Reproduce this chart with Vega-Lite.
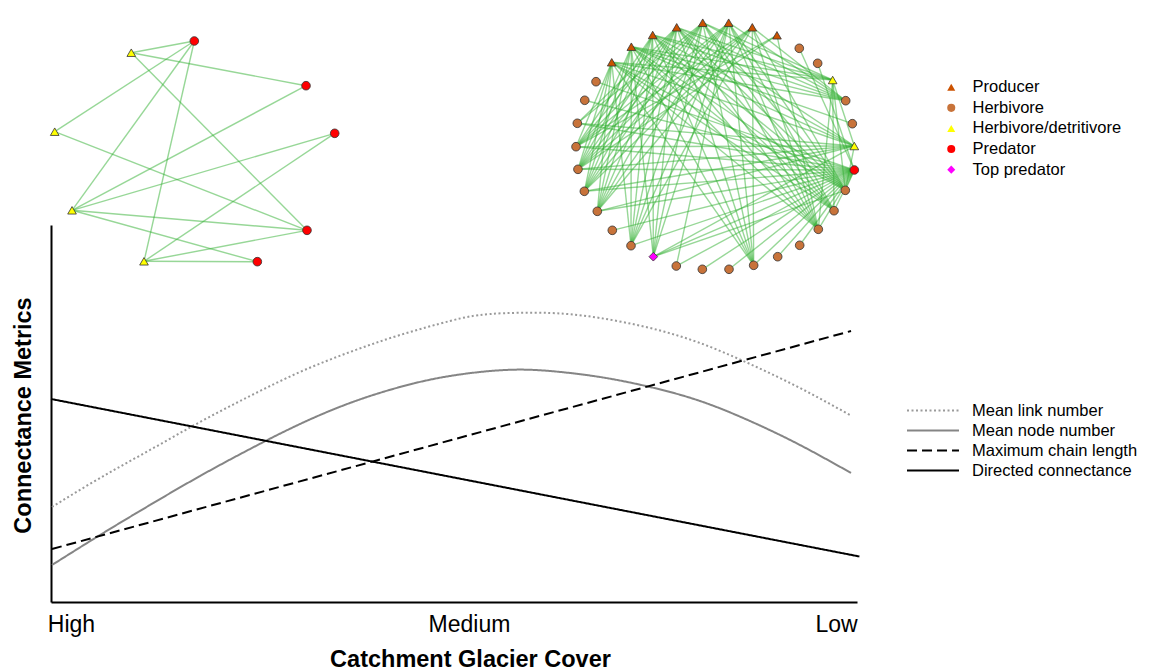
{
  "$schema": "https://vega.github.io/schema/vega-lite/v6.json",
  "width": 806,
  "height": 377,
  "autosize": {"type": "none"},
  "padding": {"left": 51, "top": 225, "right": 297, "bottom": 69},
  "background": "white",
  "config": {"view": {"stroke": null}, "font": "Liberation Sans"},
  "datasets": {
    "nodes": [
      {"id": "a1", "u": 17.78, "v": 148.81, "role": "Predator"},
      {"id": "a2", "u": 9.96, "v": 145.70, "role": "Herbivore/detritivore"},
      {"id": "a3", "u": 31.64, "v": 136.95, "role": "Predator"},
      {"id": "a4", "u": 0.46, "v": 124.75, "role": "Herbivore/detritivore"},
      {"id": "a5", "u": 35.20, "v": 124.32, "role": "Predator"},
      {"id": "a6", "u": 2.61, "v": 103.90, "role": "Herbivore/detritivore"},
      {"id": "a7", "u": 31.76, "v": 98.59, "role": "Predator"},
      {"id": "a8", "u": 11.54, "v": 90.37, "role": "Herbivore/detritivore"},
      {"id": "a9", "u": 25.60, "v": 90.27, "role": "Predator"},
      {"id": "n1", "u": 69.57, "v": 143.16, "role": "Producer"},
      {"id": "n2", "u": 72.00, "v": 147.29, "role": "Producer"},
      {"id": "n3", "u": 74.65, "v": 150.40, "role": "Producer"},
      {"id": "n4", "u": 77.63, "v": 152.44, "role": "Producer"},
      {"id": "n5", "u": 80.86, "v": 153.66, "role": "Producer"},
      {"id": "n6", "u": 84.08, "v": 153.66, "role": "Producer"},
      {"id": "n7", "u": 87.01, "v": 152.44, "role": "Producer"},
      {"id": "n8", "u": 90.07, "v": 150.32, "role": "Producer"},
      {"id": "n9", "u": 92.84, "v": 146.87, "role": "Herbivore"},
      {"id": "n10", "u": 95.12, "v": 142.89, "role": "Herbivore"},
      {"id": "n11", "u": 96.98, "v": 138.46, "role": "Herbivore/detritivore"},
      {"id": "n12", "u": 98.60, "v": 132.97, "role": "Herbivore"},
      {"id": "n13", "u": 99.42, "v": 126.87, "role": "Herbivore"},
      {"id": "n14", "u": 99.67, "v": 120.95, "role": "Herbivore/detritivore"},
      {"id": "n15", "u": 99.67, "v": 114.59, "role": "Predator"},
      {"id": "n16", "u": 98.55, "v": 109.20, "role": "Herbivore"},
      {"id": "n17", "u": 97.15, "v": 103.79, "role": "Herbivore"},
      {"id": "n18", "u": 95.20, "v": 98.86, "role": "Herbivore"},
      {"id": "n19", "u": 92.89, "v": 94.62, "role": "Herbivore"},
      {"id": "n20", "u": 90.16, "v": 91.59, "role": "Herbivore"},
      {"id": "n21", "u": 87.18, "v": 89.31, "role": "Herbivore"},
      {"id": "n22", "u": 84.12, "v": 88.25, "role": "Herbivore"},
      {"id": "n23", "u": 80.81, "v": 88.25, "role": "Herbivore"},
      {"id": "n24", "u": 77.58, "v": 89.12, "role": "Herbivore"},
      {"id": "n25", "u": 74.73, "v": 91.59, "role": "Top predator"},
      {"id": "n26", "u": 71.96, "v": 94.51, "role": "Herbivore"},
      {"id": "n27", "u": 69.64, "v": 98.59, "role": "Herbivore"},
      {"id": "n28", "u": 67.78, "v": 103.63, "role": "Herbivore"},
      {"id": "n29", "u": 66.17, "v": 108.94, "role": "Herbivore"},
      {"id": "n30", "u": 65.38, "v": 114.77, "role": "Herbivore"},
      {"id": "n31", "u": 65.14, "v": 120.77, "role": "Herbivore"},
      {"id": "n32", "u": 65.30, "v": 126.98, "role": "Herbivore"},
      {"id": "n33", "u": 66.22, "v": 133.08, "role": "Herbivore"},
      {"id": "n34", "u": 67.62, "v": 138.01, "role": "Herbivore"}
    ],
    "links": [
      {"s": "a2", "t": "a1"}, {"s": "a2", "t": "a3"}, {"s": "a2", "t": "a7"},
      {"s": "a4", "t": "a1"}, {"s": "a4", "t": "a7"},
      {"s": "a6", "t": "a1"}, {"s": "a6", "t": "a3"}, {"s": "a6", "t": "a5"}, {"s": "a6", "t": "a7"}, {"s": "a6", "t": "a9"},
      {"s": "a8", "t": "a1"}, {"s": "a8", "t": "a5"}, {"s": "a8", "t": "a7"}, {"s": "a8", "t": "a9"},
      {"s": "n1", "t": "n12"}, {"s": "n1", "t": "n16"}, {"s": "n1", "t": "n17"}, {"s": "n1", "t": "n18"}, {"s": "n1", "t": "n21"}, {"s": "n1", "t": "n26"}, {"s": "n1", "t": "n28"}, {"s": "n1", "t": "n29"}, {"s": "n1", "t": "n30"}, {"s": "n1", "t": "n31"},
      {"s": "n2", "t": "n12"}, {"s": "n2", "t": "n13"}, {"s": "n2", "t": "n16"}, {"s": "n2", "t": "n17"}, {"s": "n2", "t": "n18"}, {"s": "n2", "t": "n21"}, {"s": "n2", "t": "n25"}, {"s": "n2", "t": "n26"}, {"s": "n2", "t": "n28"}, {"s": "n2", "t": "n29"}, {"s": "n2", "t": "n30"},
      {"s": "n3", "t": "n12"}, {"s": "n3", "t": "n16"}, {"s": "n3", "t": "n17"}, {"s": "n3", "t": "n18"}, {"s": "n3", "t": "n21"}, {"s": "n3", "t": "n25"}, {"s": "n3", "t": "n26"}, {"s": "n3", "t": "n28"}, {"s": "n3", "t": "n29"}, {"s": "n3", "t": "n30"}, {"s": "n3", "t": "n31"},
      {"s": "n4", "t": "n12"}, {"s": "n4", "t": "n16"}, {"s": "n4", "t": "n17"}, {"s": "n4", "t": "n18"}, {"s": "n4", "t": "n21"}, {"s": "n4", "t": "n25"}, {"s": "n4", "t": "n26"}, {"s": "n4", "t": "n28"}, {"s": "n4", "t": "n29"}, {"s": "n4", "t": "n30"}, {"s": "n4", "t": "n31"}, {"s": "n4", "t": "n32"},
      {"s": "n5", "t": "n12"}, {"s": "n5", "t": "n16"}, {"s": "n5", "t": "n17"}, {"s": "n5", "t": "n18"}, {"s": "n5", "t": "n21"}, {"s": "n5", "t": "n25"}, {"s": "n5", "t": "n26"}, {"s": "n5", "t": "n28"}, {"s": "n5", "t": "n29"}, {"s": "n5", "t": "n30"}, {"s": "n5", "t": "n31"}, {"s": "n5", "t": "n32"},
      {"s": "n6", "t": "n12"}, {"s": "n6", "t": "n16"}, {"s": "n6", "t": "n17"}, {"s": "n6", "t": "n18"}, {"s": "n6", "t": "n21"}, {"s": "n6", "t": "n24"}, {"s": "n6", "t": "n25"}, {"s": "n6", "t": "n26"}, {"s": "n6", "t": "n28"}, {"s": "n6", "t": "n29"}, {"s": "n6", "t": "n30"}, {"s": "n6", "t": "n31"},
      {"s": "n7", "t": "n12"}, {"s": "n7", "t": "n16"}, {"s": "n7", "t": "n18"}, {"s": "n7", "t": "n21"}, {"s": "n7", "t": "n26"}, {"s": "n7", "t": "n28"}, {"s": "n7", "t": "n29"}, {"s": "n7", "t": "n30"}, {"s": "n7", "t": "n31"},
      {"s": "n8", "t": "n18"}, {"s": "n8", "t": "n30"}, {"s": "n8", "t": "n31"},
      {"s": "n11", "t": "n1"}, {"s": "n11", "t": "n2"}, {"s": "n11", "t": "n3"}, {"s": "n11", "t": "n4"}, {"s": "n11", "t": "n5"}, {"s": "n11", "t": "n14"}, {"s": "n11", "t": "n16"}, {"s": "n11", "t": "n17"}, {"s": "n11", "t": "n18"},
      {"s": "n14", "t": "n1"}, {"s": "n14", "t": "n2"}, {"s": "n14", "t": "n3"}, {"s": "n14", "t": "n4"}, {"s": "n14", "t": "n28"}, {"s": "n14", "t": "n29"}, {"s": "n14", "t": "n30"}, {"s": "n14", "t": "n31"}, {"s": "n14", "t": "n32"}, {"s": "n14", "t": "n16"},
      {"s": "n15", "t": "n9"}, {"s": "n15", "t": "n10"}, {"s": "n15", "t": "n16"}, {"s": "n15", "t": "n17"}, {"s": "n15", "t": "n18"}, {"s": "n15", "t": "n19"}, {"s": "n15", "t": "n20"}, {"s": "n15", "t": "n21"}, {"s": "n15", "t": "n22"}, {"s": "n15", "t": "n23"}, {"s": "n15", "t": "n24"}, {"s": "n15", "t": "n26"}, {"s": "n15", "t": "n27"}, {"s": "n15", "t": "n28"}, {"s": "n15", "t": "n29"}, {"s": "n15", "t": "n30"}, {"s": "n15", "t": "n31"}, {"s": "n15", "t": "n32"}, {"s": "n15", "t": "n33"}, {"s": "n15", "t": "n34"},
      {"s": "n25", "t": "n14"}, {"s": "n25", "t": "n15"}, {"s": "n25", "t": "n16"}
    ],
    "curves": [
      {"series": "Mean link number", "u": 0.12, "v": 25.20},
      {"series": "Mean link number", "u": 6.08, "v": 32.89},
      {"series": "Mean link number", "u": 12.28, "v": 40.32},
      {"series": "Mean link number", "u": 18.49, "v": 47.75},
      {"series": "Mean link number", "u": 24.69, "v": 54.64},
      {"series": "Mean link number", "u": 30.89, "v": 61.01},
      {"series": "Mean link number", "u": 37.10, "v": 66.31},
      {"series": "Mean link number", "u": 43.30, "v": 70.82},
      {"series": "Mean link number", "u": 49.50, "v": 74.54},
      {"series": "Mean link number", "u": 54.47, "v": 76.39},
      {"series": "Mean link number", "u": 61.91, "v": 76.66},
      {"series": "Mean link number", "u": 68.11, "v": 75.33},
      {"series": "Mean link number", "u": 74.32, "v": 72.68},
      {"series": "Mean link number", "u": 80.52, "v": 68.70},
      {"series": "Mean link number", "u": 86.72, "v": 63.13},
      {"series": "Mean link number", "u": 92.93, "v": 56.76},
      {"series": "Mean link number", "u": 99.13, "v": 49.60},
      {"series": "Mean node number", "u": 0.12, "v": 9.81},
      {"series": "Mean node number", "u": 6.08, "v": 17.77},
      {"series": "Mean node number", "u": 12.28, "v": 25.73},
      {"series": "Mean node number", "u": 18.49, "v": 33.42},
      {"series": "Mean node number", "u": 24.69, "v": 40.58},
      {"series": "Mean node number", "u": 30.89, "v": 47.21},
      {"series": "Mean node number", "u": 37.10, "v": 52.79},
      {"series": "Mean node number", "u": 43.30, "v": 57.03},
      {"series": "Mean node number", "u": 49.50, "v": 59.95},
      {"series": "Mean node number", "u": 56.33, "v": 61.54},
      {"series": "Mean node number", "u": 61.91, "v": 61.27},
      {"series": "Mean node number", "u": 68.11, "v": 59.68},
      {"series": "Mean node number", "u": 74.32, "v": 57.03},
      {"series": "Mean node number", "u": 80.52, "v": 53.32},
      {"series": "Mean node number", "u": 86.72, "v": 48.01},
      {"series": "Mean node number", "u": 92.93, "v": 41.64},
      {"series": "Mean node number", "u": 99.26, "v": 34.22},
      {"series": "Maximum chain length", "u": 0.12, "v": 14.06},
      {"series": "Maximum chain length", "u": 99.26, "v": 71.88},
      {"series": "Directed connectance", "u": 0, "v": 53.85},
      {"series": "Directed connectance", "u": 100.3, "v": 12.07}
    ]
  },
  "encoding": {
    "x": {
      "field": "u", "type": "quantitative",
      "scale": {"domain": [0, 100], "nice": false, "zero": false},
      "axis": {
        "values": [2.48, 51.86, 97.4],
        "labelExpr": "datum.value < 10 ? 'High' : datum.value > 90 ? 'Low' : 'Medium'",
        "ticks": false, "tickSize": 0, "grid": false,
        "domainColor": "#000000", "domainWidth": 2,
        "labelFont": "Liberation Sans", "labelFontSize": 23, "labelColor": "#000000",
        "labelPadding": 11, "labelAlign": "center", "labelBaseline": "top",
        "labelFlush": false, "labelOverlap": false,
        "title": "Catchment Glacier Cover",
        "titleFont": "Liberation Sans", "titleFontSize": 23.5, "titleFontWeight": "bold", "titleColor": "#000000",
        "titleX": 419, "titleY": 64, "titleAlign": "center", "titleBaseline": "alphabetic"
      }
    },
    "y": {
      "field": "v", "type": "quantitative",
      "scale": {"domain": [0, 100], "nice": false, "zero": false},
      "axis": {
        "values": [], "ticks": false, "tickSize": 0, "labels": false, "grid": false,
        "domainColor": "#000000", "domainWidth": 2,
        "title": "Connectance Metrics",
        "titleFont": "Liberation Sans", "titleFontSize": 23.5, "titleFontWeight": "bold", "titleColor": "#000000",
        "titleX": -21, "titleY": 190, "titleAngle": 270, "titleAlign": "center", "titleBaseline": "alphabetic"
      }
    }
  },
  "layer": [
    {
      "data": {"name": "links"},
      "transform": [
        {"lookup": "s", "from": {"data": {"name": "nodes"}, "key": "id", "fields": ["u", "v"]}},
        {"lookup": "t", "from": {"data": {"name": "nodes"}, "key": "id", "fields": ["u", "v"]}, "as": ["tu", "tv"]}
      ],
      "mark": {"type": "rule", "stroke": "#30b030", "strokeOpacity": 0.5, "strokeWidth": 1.4},
      "encoding": {
        "x2": {"field": "tu"},
        "y2": {"field": "tv"}
      }
    },
    {
      "data": {"name": "nodes"},
      "mark": {"type": "point", "filled": true, "opacity": 1, "stroke": "#333333", "strokeWidth": 0.8, "size": 75},
      "encoding": {
        "fill": {
          "field": "role", "type": "nominal",
          "scale": {"domain": ["Producer", "Herbivore", "Herbivore/detritivore", "Predator", "Top predator"],
                    "range": ["#cc5200", "#c8733a", "#ffff00", "#ff0000", "#ff00ff"]},
          "legend": {"title": null, "orient": "none", "legendX": 892, "legendY": -146, "padding": 0,
                     "labelFont": "Liberation Sans", "labelFontSize": 16.5, "labelColor": "#000000", "labelLimit": 400,
                     "symbolSize": 65, "symbolStrokeColor": "#333333", "symbolStrokeWidth": 0.8,
                     "labelOffset": 13, "rowPadding": 3.6}
        },
        "shape": {
          "field": "role", "type": "nominal",
          "scale": {"domain": ["Producer", "Herbivore", "Herbivore/detritivore", "Predator", "Top predator"],
                    "range": ["triangle-up", "circle", "triangle-up", "circle", "diamond"]},
          "legend": {"title": null, "orient": "none", "legendX": 892, "legendY": -146, "padding": 0,
                     "labelFont": "Liberation Sans", "labelFontSize": 16.5, "labelColor": "#000000", "labelLimit": 400,
                     "symbolSize": 65, "symbolStrokeColor": "#333333", "symbolStrokeWidth": 0.8,
                     "labelOffset": 13, "rowPadding": 3.6}
        }
      }
    },
    {
      "data": {"name": "curves"},
      "mark": {"type": "line", "interpolate": "natural", "strokeWidth": 2},
      "encoding": {
        "stroke": {
          "field": "series", "type": "nominal",
          "scale": {"domain": ["Mean link number", "Mean node number", "Maximum chain length", "Directed connectance"],
                    "range": ["#9a9a9a", "#858585", "#000000", "#000000"]},
          "legend": {"title": null, "orient": "none", "legendX": 855, "legendY": 177, "padding": 0,
                     "labelFont": "Liberation Sans", "labelFontSize": 16.5, "labelColor": "#000000", "labelLimit": 400,
                     "symbolType": "stroke", "symbolSize": 2700, "symbolStrokeWidth": 2,
                     "labelOffset": 12, "rowPadding": 3, "clipHeight": 17}
        },
        "strokeDash": {
          "field": "series", "type": "nominal",
          "scale": {"domain": ["Mean link number", "Mean node number", "Maximum chain length", "Directed connectance"],
                    "range": [[2, 2.5], [1, 0], [10, 5], [1, 0]]},
          "legend": {"title": null, "orient": "none", "legendX": 855, "legendY": 177, "padding": 0,
                     "labelFont": "Liberation Sans", "labelFontSize": 16.5, "labelColor": "#000000", "labelLimit": 400,
                     "symbolType": "stroke", "symbolSize": 2700, "symbolStrokeWidth": 2,
                     "labelOffset": 12, "rowPadding": 3, "clipHeight": 17}
        }
      }
    }
  ]
}
